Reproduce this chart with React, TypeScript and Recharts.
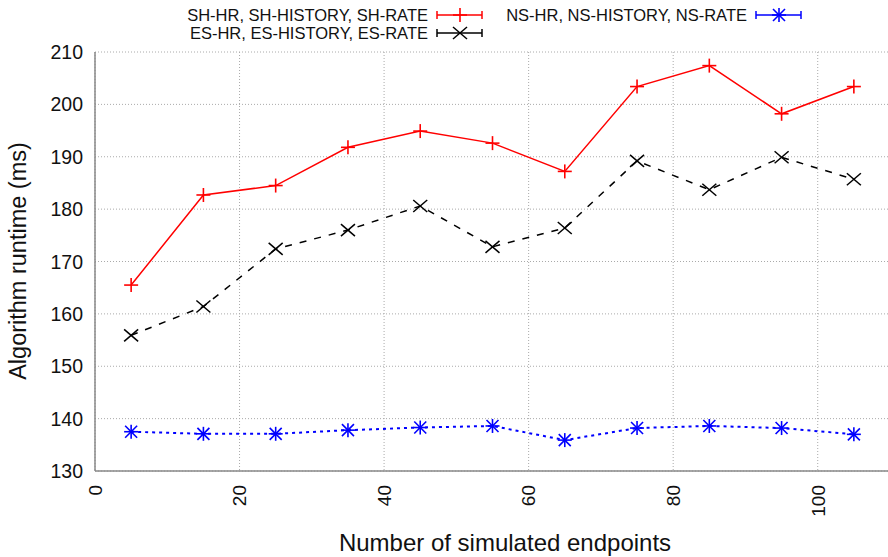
import React from "react";
import {
  LineChart,
  Line,
  XAxis,
  YAxis,
  CartesianGrid,
} from "recharts";

const endpoints = [5, 15, 25, 35, 45, 55, 65, 75, 85, 95, 105];
const shRuntime = [165.5, 182.7, 184.5, 191.8, 194.9, 192.6, 187.2, 203.4, 207.4, 198.2, 203.4];
const esRuntime = [155.9, 161.4, 172.4, 176.0, 180.6, 172.8, 176.4, 189.2, 183.7, 189.9, 185.7];
const nsRuntime = [137.5, 137.1, 137.1, 137.8, 138.3, 138.6, 135.9, 138.2, 138.6, 138.2, 137.0];

const xTicks = [0, 20, 40, 60, 80, 100];
const yTicks = [130, 140, 150, 160, 170, 180, 190, 200, 210];

const seriesNames = {
  sh: "SH-HR, SH-HISTORY, SH-RATE",
  es: "ES-HR, ES-HISTORY, ES-RATE",
  ns: "NS-HR, NS-HISTORY, NS-RATE",
};

const data = endpoints.map((x, i) => ({
  x,
  sh: shRuntime[i],
  es: esRuntime[i],
  ns: nsRuntime[i],
}));

const FONT = "'Liberation Sans', Arial, sans-serif";

function PlusMark({ cx, cy, color = "#ff0000" }: any) {
  if (cx == null || cy == null) return null;
  return (
    <g stroke={color} strokeWidth={1.6}>
      <line x1={cx - 7} y1={cy} x2={cx + 7} y2={cy} />
      <line x1={cx} y1={cy - 7} x2={cx} y2={cy + 7} />
    </g>
  );
}

function CrossMark({ cx, cy, color = "#000" }: any) {
  if (cx == null || cy == null) return null;
  return (
    <g stroke={color} strokeWidth={1.5}>
      <line x1={cx - 7} y1={cy - 6} x2={cx + 7} y2={cy + 6} />
      <line x1={cx - 7} y1={cy + 6} x2={cx + 7} y2={cy - 6} />
    </g>
  );
}

function StarMark({ cx, cy, color = "#0000ff" }: any) {
  if (cx == null || cy == null) return null;
  return (
    <g stroke={color} strokeWidth={1.6}>
      <line x1={cx - 7} y1={cy} x2={cx + 7} y2={cy} />
      <line x1={cx} y1={cy - 7} x2={cx} y2={cy + 7} />
      <line x1={cx - 6} y1={cy - 6} x2={cx + 6} y2={cy + 6} />
      <line x1={cx - 6} y1={cy + 6} x2={cx + 6} y2={cy - 6} />
    </g>
  );
}

function XTick({ x, y, payload }: any) {
  return (
    <text
      x={x}
      y={y}
      transform={`rotate(-90, ${x}, ${y})`}
      textAnchor="end"
      dy="0.36em"
      fontSize={19}
      fontFamily={FONT}
      fill="#111"
    >
      {payload.value}
    </text>
  );
}

function YTick({ x, y, payload }: any) {
  return (
    <text
      x={x}
      y={y}
      textAnchor="end"
      dy="0.36em"
      fontSize={19.5}
      fontFamily={FONT}
      fill="#111"
    >
      {payload.value}
    </text>
  );
}

function LegendSample({ color, Mark }: any) {
  return (
    <svg width={48} height={14} style={{ display: "block" }}>
      <g stroke={color} strokeWidth={1.5}>
        <line x1={1} y1={7} x2={46} y2={7} />
        <line x1={1} y1={3} x2={1} y2={11} />
        <line x1={46} y1={3} x2={46} y2={11} />
      </g>
      <Mark cx={24} cy={7} color={color} />
    </svg>
  );
}

function LegendBox() {
  const row = (label: string, color: string, Mark: any) => (
    <div style={{ display: "flex", alignItems: "center", justifyContent: "flex-end", height: 18 }}>
      <span style={{ marginRight: 8 }}>{label}</span>
      <LegendSample color={color} Mark={Mark} />
    </div>
  );
  return (
    <div
      style={{
        position: "absolute",
        left: 0,
        top: 0,
        width: 888,
        height: 44,
        fontFamily: FONT,
        fontSize: 16.5,
        color: "#111",
        pointerEvents: "none",
      }}
    >
      <div style={{ position: "absolute", right: 888 - 484, top: 6 }}>
        {row(seriesNames.sh, "#ff0000", PlusMark)}
        {row(seriesNames.es, "#000000", CrossMark)}
      </div>
      <div style={{ position: "absolute", right: 888 - 803, top: 6 }}>
        {row(seriesNames.ns, "#0000ff", StarMark)}
      </div>
    </div>
  );
}

export default function App() {
  return (
    <div style={{ position: "absolute", left: 0, top: 0, width: 888, height: 557, background: "#fff" }}>
      <LineChart
        width={888}
        height={557}
        data={data}
        margin={{ top: 52, right: -2, bottom: 0, left: 0 }}
      >
        <CartesianGrid stroke="#aaa" strokeDasharray="1 2" />
        <XAxis
          dataKey="x"
          type="number"
          domain={[0, 110]}
          ticks={xTicks}
          height={86}
          tickSize={0}
          tickMargin={14}
          tick={<XTick />}
          stroke="#888"
          strokeWidth={1.5}
          label={{
            content: () => (
              <text x={505} y={551} textAnchor="middle" fontSize={24} fontFamily={FONT} fill="#111">
                Number of simulated endpoints
              </text>
            ),
          }}
        />
        <YAxis
          type="number"
          domain={[130, 210]}
          ticks={yTicks}
          width={95}
          tickSize={0}
          tickMargin={12}
          tick={<YTick />}
          stroke="#888"
          strokeWidth={1.5}
          label={{
            content: () => (
              <text
                x={18}
                y={261}
                transform="rotate(-90, 18, 261)"
                textAnchor="middle"
                dy="0.36em"
                fontSize={23.5}
                fontFamily={FONT}
                fill="#111"
              >
                Algorithm runtime (ms)
              </text>
            ),
          }}
        />
        <Line
          dataKey="sh"
          name={seriesNames.sh}
          stroke="#ff0000"
          strokeWidth={1.5}
          dot={<PlusMark color="#ff0000" />}
          isAnimationActive={false}
        />
        <Line
          dataKey="es"
          name={seriesNames.es}
          stroke="#000000"
          strokeWidth={1.5}
          strokeDasharray="7 8"
          dot={<CrossMark color="#000000" />}
          isAnimationActive={false}
        />
        <Line
          dataKey="ns"
          name={seriesNames.ns}
          stroke="#0000ff"
          strokeWidth={2}
          strokeDasharray="3 4"
          dot={<StarMark color="#0000ff" />}
          isAnimationActive={false}
        />
      </LineChart>
      <LegendBox />
    </div>
  );
}
